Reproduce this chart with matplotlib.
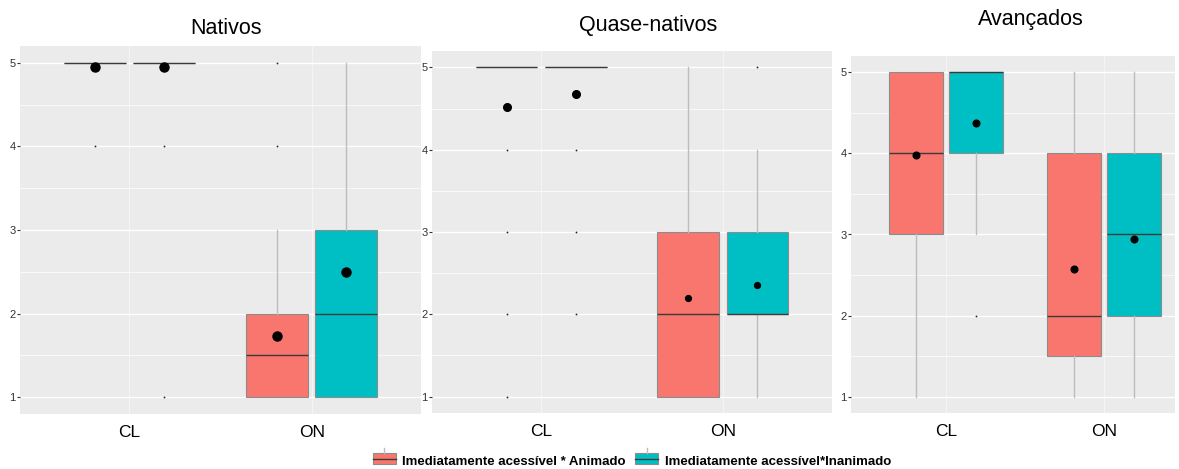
import numpy as np
import matplotlib.pyplot as plt
from matplotlib.patches import Rectangle
from matplotlib.lines import Line2D
from matplotlib.legend_handler import HandlerBase

plt.rcParams['font.family'] = ['Liberation Sans', 'DejaVu Sans']

# summary statistics, indexed [group][category][series]
groups = ["Nativos", "Quase-nativos", "Avançados"]
categories = ["CL", "ON"]
series = ["Imediatamente acessível * Animado", "Imediatamente acessível*Inanimado"]
colors = ["#F8766D", "#00BFC4"]

q1 = [[[5, 5], [1, 1]], [[5, 5], [1, 2]], [[3, 4], [1.5, 2]]]
med = [[[5, 5], [1.5, 2]], [[5, 5], [2, 2]], [[4, 5], [2, 3]]]
q3 = [[[5, 5], [2, 3]], [[5, 5], [3, 3]], [[5, 5], [4, 4]]]
whislo = [[[5, 5], [1, 1]], [[5, 5], [1, 1]], [[1, 3], [1, 1]]]
whishi = [[[5, 5], [3, 5]], [[5, 5], [5, 4]], [[5, 5], [5, 5]]]
outliers = [[[[4], [4, 1]], [[4, 5], []]],
            [[[4, 3, 2, 1], [4, 3, 2]], [[], [5]]],
            [[[], [2]], [[], []]]]
means = [[[4.95, 4.95], [1.73, 2.50]],
         [[4.52, 4.68], [2.20, 2.35]],
         [[3.98, 4.37], [2.57, 2.95]]]

W, H = 1179, 469
fig = plt.figure(figsize=(W / 100, H / 100), dpi=100)

# panel boxes in pixels: left, top, right, bottom
panels = [(20, 46, 421, 414), (432, 51, 832, 413), (851, 56, 1175, 413)]
xlims = [(0.4, 2.6), (0.4, 2.6), (0.4, 2.45)]
titles_xy = [(226, 28), (648, 26), (1031, 20)]
mean_size = [[6.5, 6.5], [5.5, 4.2], [4.8, 4.8]]

for g in range(3):
    l, t, r, b = panels[g]
    ax = fig.add_axes([l / W, 1 - b / H, (r - l) / W, (b - t) / H])
    ax.set_facecolor("#EBEBEB")
    for s in ax.spines.values():
        s.set_visible(False)

    for c in range(2):
        for k in range(2):
            pos = c + 1 + (-0.19 if k == 0 else 0.19)
            st = dict(q1=q1[g][c][k], med=med[g][c][k], q3=q3[g][c][k],
                      whislo=whislo[g][c][k], whishi=whishi[g][c][k],
                      fliers=outliers[g][c][k])
            ax.bxp([st], positions=[pos], widths=0.34, patch_artist=True,
                   showcaps=False, manage_ticks=False,
                   boxprops=dict(facecolor=colors[k], edgecolor="#8C8C8C", lw=0.8),
                   medianprops=dict(color="#3A3A3A", lw=1.0),
                   whiskerprops=dict(color="#BDBDBD", lw=1.0),
                   flierprops=dict(marker='o', markersize=1.3, markerfacecolor='#222222',
                                   markeredgecolor='none'))
            ax.plot(pos, means[g][c][k], 'o', color='black',
                    markersize=mean_size[g][c], zorder=5)

    ax.set_xlim(*xlims[g])
    ax.set_ylim(0.8, 5.2)
    ax.set_yticks([1, 2, 3, 4, 5])
    ax.set_yticks([1.5, 2.5, 3.5, 4.5], minor=True)
    ax.set_xticks([1, 2])
    ax.set_xticklabels(categories, fontsize=12.5)
    ax.tick_params(axis='y', labelsize=8, colors="#333333", length=2, pad=1)
    ax.tick_params(axis='y', which='minor', length=0)
    ax.tick_params(axis='x', length=0, pad=8)
    ax.grid(True, which='major', axis='y', color='white', lw=1.0)
    ax.grid(True, which='minor', axis='y', color='white', lw=0.5)
    ax.grid(True, which='major', axis='x', color='#F4F4F4', lw=0.8)
    ax.set_axisbelow(True)

    fig.text(titles_xy[g][0] / W, 1 - titles_xy[g][1] / H, groups[g],
             fontsize=15.5, ha='center', va='center')


class BoxKey(HandlerBase):
    def create_artists(self, legend, orig, xd, yd, w, h, fontsize, trans):
        fc = orig.get_facecolor()
        rect = Rectangle((xd, yd - 0.15 * h), w, h * 0.85, facecolor=fc,
                         edgecolor="#8C8C8C", lw=0.8, transform=trans)
        mid = Line2D([xd, xd + w], [yd + 0.28 * h] * 2, color="#3A3A3A",
                     lw=1.0, transform=trans)
        wh = Line2D([xd + w / 2] * 2, [yd + 0.7 * h, yd + 1.05 * h],
                    color="#BDBDBD", lw=1.0, transform=trans)
        return [rect, mid, wh]


handles = [Rectangle((0, 0), 1, 1, facecolor=colors[k]) for k in range(2)]
fig.legend(handles, series, loc='center', bbox_to_anchor=(0.536, 0.018),
           ncol=2, frameon=False, handler_map={Rectangle: BoxKey()},
           prop=dict(size=9.5, weight='bold'), handlelength=1.75,
           handleheight=1.2, columnspacing=0.7, handletextpad=0.5,
           borderpad=0.2)

fig.savefig("out.png", dpi=100)
